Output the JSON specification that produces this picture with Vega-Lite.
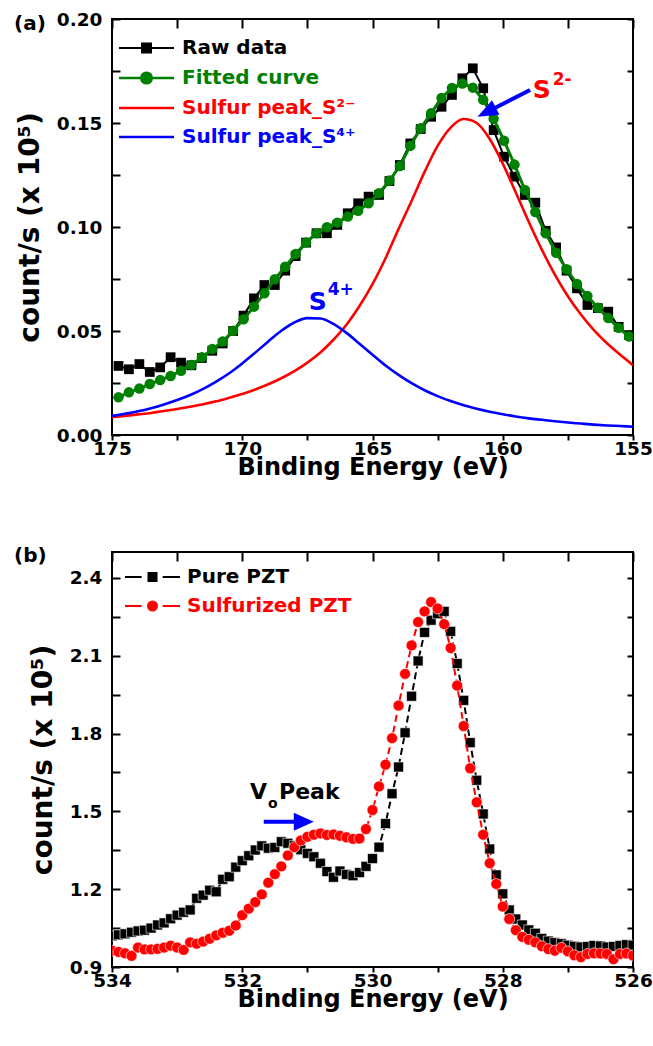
{
  "$schema": "https://vega.github.io/schema/vega-lite/v6.json",
  "background": "white",
  "padding": {"left": 13, "top": 9, "right": 3, "bottom": 3},
  "spacing": 64,
  "resolve": {"scale": {"color": "independent"}, "legend": {"color": "independent"}},
  "config": {
    "font": "DejaVu Sans",
    "view": {"stroke": "black", "strokeWidth": 2},
    "axis": {"grid": false, "domain": false, "tickColor": "black", "tickWidth": 2, "labelFont": "DejaVu Sans", "labelFontWeight": "bold", "labelColor": "black", "labelFontSize": 18.5, "titleFont": "DejaVu Sans", "titleFontWeight": "bold", "titleColor": "black", "titleFontSize": 24, "labelFlush": false, "labelOverlap": false},
    "legend": {"labelFont": "DejaVu Sans", "labelFontWeight": "bold", "labelFontSize": 20, "padding": 0, "rowPadding": 0, "labelLimit": 400},
    "title": {"font": "DejaVu Sans", "fontWeight": "bold", "fontSize": 20, "color": "black"}
  },
  "datasets": {
    "topMeas": [
      {"E":174.75,"raw":0.0332,"fit":0.0181},{"E":174.35,"raw":0.0316,"fit":0.0205},{"E":173.95,"raw":0.0341,"fit":0.0223},{"E":173.55,"raw":0.0303,"fit":0.0245},{"E":173.15,"raw":0.0325,"fit":0.0264},
      {"E":172.75,"raw":0.0374,"fit":0.0284},{"E":172.35,"raw":0.0348,"fit":0.0309},{"E":171.95,"raw":0.0335,"fit":0.0337},{"E":171.55,"raw":0.0370,"fit":0.0374},{"E":171.15,"raw":0.0405,"fit":0.0413},
      {"E":170.75,"raw":0.0440,"fit":0.0449},{"E":170.35,"raw":0.0500,"fit":0.0501},{"E":169.95,"raw":0.0574,"fit":0.0556},{"E":169.55,"raw":0.0657,"fit":0.0617},{"E":169.15,"raw":0.0721,"fit":0.0681},
      {"E":168.75,"raw":0.0721,"fit":0.0749},{"E":168.35,"raw":0.0790,"fit":0.0809},{"E":167.95,"raw":0.0860,"fit":0.0870},{"E":167.55,"raw":0.0925,"fit":0.0925},{"E":167.15,"raw":0.0970,"fit":0.0970},
      {"E":166.75,"raw":0.0970,"fit":0.0999},{"E":166.35,"raw":0.1010,"fit":0.1021},{"E":165.95,"raw":0.1066,"fit":0.1050},{"E":165.55,"raw":0.1114,"fit":0.1078},{"E":165.15,"raw":0.1146,"fit":0.1114},
      {"E":164.75,"raw":0.1154,"fit":0.1162},{"E":164.35,"raw":0.1221,"fit":0.1223},{"E":163.95,"raw":0.1298,"fit":0.1293},{"E":163.55,"raw":0.1402,"fit":0.1390},{"E":163.15,"raw":0.1471,"fit":0.1475},
      {"E":162.75,"raw":0.1530,"fit":0.1547},{"E":162.35,"raw":0.1578,"fit":0.1620},{"E":161.95,"raw":0.1635,"fit":0.1668},{"E":161.55,"raw":0.1715,"fit":0.1690},{"E":161.15,"raw":0.1763,"fit":0.1670},
      {"E":160.75,"raw":0.1667,"fit":0.1612},{"E":160.35,"raw":0.1466,"fit":0.1520},{"E":159.95,"raw":0.1338,"fit":0.1415},{"E":159.55,"raw":0.1242,"fit":0.1300},{"E":159.15,"raw":0.1154,"fit":0.1178},
      {"E":158.75,"raw":0.1117,"fit":0.1072},{"E":158.35,"raw":0.0982,"fit":0.0970},{"E":157.95,"raw":0.0902,"fit":0.0876},{"E":157.55,"raw":0.0790,"fit":0.0797},{"E":157.15,"raw":0.0705,"fit":0.0726},
      {"E":156.75,"raw":0.0625,"fit":0.0668},{"E":156.35,"raw":0.0610,"fit":0.0612},{"E":155.95,"raw":0.0593,"fit":0.0562},{"E":155.55,"raw":0.0520,"fit":0.0515},{"E":155.15,"raw":0.0480,"fit":0.0473}
    ],
    "topPeaks": [
      {"E":175,"s2":0.0086,"s4":0.0091},{"E":174.5,"s2":0.0092,"s4":0.0102},{"E":174,"s2":0.0099,"s4":0.0114},{"E":173.5,"s2":0.0106,"s4":0.0129},{"E":173,"s2":0.0115,"s4":0.0147},
      {"E":172.5,"s2":0.0125,"s4":0.0168},{"E":172,"s2":0.0136,"s4":0.0192},{"E":171.5,"s2":0.0148,"s4":0.0222},{"E":171,"s2":0.0162,"s4":0.0257},{"E":170.5,"s2":0.0179,"s4":0.0297},
      {"E":170,"s2":0.0197,"s4":0.0344},{"E":169.5,"s2":0.0219,"s4":0.0396},{"E":169,"s2":0.0244,"s4":0.0450},{"E":168.5,"s2":0.0273,"s4":0.0501},{"E":168,"s2":0.0307,"s4":0.0541},
      {"E":167.5,"s2":0.0348,"s4":0.0562},{"E":167,"s2":0.0397,"s4":0.0560},{"E":166.5,"s2":0.0458,"s4":0.0534},{"E":166,"s2":0.0530,"s4":0.0491},{"E":165.5,"s2":0.0620,"s4":0.0439},
      {"E":165,"s2":0.0725,"s4":0.0386},{"E":164.5,"s2":0.0850,"s4":0.0334},{"E":164,"s2":0.0990,"s4":0.0289},{"E":163.5,"s2":0.1125,"s4":0.0249},{"E":163,"s2":0.1265,"s4":0.0215},
      {"E":162.5,"s2":0.1390,"s4":0.0187},{"E":162,"s2":0.1478,"s4":0.0163},{"E":161.5,"s2":0.1519,"s4":0.0143},{"E":161,"s2":0.1500,"s4":0.0126},{"E":160.5,"s2":0.1423,"s4":0.0112},
      {"E":160,"s2":0.1305,"s4":0.0100},{"E":159.5,"s2":0.1166,"s4":0.0089},{"E":159,"s2":0.1024,"s4":0.0080},{"E":158.5,"s2":0.0891,"s4":0.0073},{"E":158,"s2":0.0771,"s4":0.0066},
      {"E":157.5,"s2":0.0667,"s4":0.0060},{"E":157,"s2":0.0579,"s4":0.0055},{"E":156.5,"s2":0.0504,"s4":0.0050},{"E":156,"s2":0.0441,"s4":0.0046},{"E":155.5,"s2":0.0387,"s4":0.0043},
      {"E":155,"s2":0.0336,"s4":0.0040}
    ],
    "bottom": [
      {"E":534.0,"pure":1.020,"sulf":0.963},{"E":533.9,"pure":1.024,"sulf":0.958},{"E":533.8,"pure":1.028,"sulf":0.953},{"E":533.7,"pure":1.034,"sulf":0.943},{"E":533.6,"pure":1.039,"sulf":0.975},
      {"E":533.5,"pure":1.042,"sulf":0.968},{"E":533.4,"pure":1.050,"sulf":0.968},{"E":533.3,"pure":1.062,"sulf":0.970},{"E":533.2,"pure":1.070,"sulf":0.975},{"E":533.1,"pure":1.086,"sulf":0.982},
      {"E":533.0,"pure":1.100,"sulf":0.975},{"E":532.9,"pure":1.111,"sulf":0.966},{"E":532.8,"pure":1.120,"sulf":0.995},{"E":532.7,"pure":1.165,"sulf":0.990},{"E":532.6,"pure":1.177,"sulf":0.998},
      {"E":532.5,"pure":1.196,"sulf":1.009},{"E":532.4,"pure":1.190,"sulf":1.022},{"E":532.3,"pure":1.238,"sulf":1.032},{"E":532.2,"pure":1.248,"sulf":1.040},{"E":532.1,"pure":1.285,"sulf":1.060},
      {"E":532.0,"pure":1.310,"sulf":1.100},{"E":531.9,"pure":1.329,"sulf":1.125},{"E":531.8,"pure":1.351,"sulf":1.150},{"E":531.7,"pure":1.367,"sulf":1.180},{"E":531.6,"pure":1.358,"sulf":1.225},
      {"E":531.5,"pure":1.361,"sulf":1.258},{"E":531.4,"pure":1.383,"sulf":1.288},{"E":531.3,"pure":1.377,"sulf":1.330},{"E":531.2,"pure":1.368,"sulf":1.362},{"E":531.1,"pure":1.352,"sulf":1.388},
      {"E":531.0,"pure":1.338,"sulf":1.402},{"E":530.9,"pure":1.325,"sulf":1.410},{"E":530.8,"pure":1.300,"sulf":1.415},{"E":530.7,"pure":1.268,"sulf":1.409},{"E":530.6,"pure":1.246,"sulf":1.411},
      {"E":530.5,"pure":1.270,"sulf":1.406},{"E":530.4,"pure":1.257,"sulf":1.400},{"E":530.3,"pure":1.252,"sulf":1.394},{"E":530.2,"pure":1.264,"sulf":1.395},{"E":530.1,"pure":1.288,"sulf":1.432},
      {"E":530.0,"pure":1.318,"sulf":1.505},{"E":529.9,"pure":1.362,"sulf":1.596},{"E":529.8,"pure":1.453,"sulf":1.680},{"E":529.7,"pure":1.568,"sulf":1.782},{"E":529.6,"pure":1.671,"sulf":1.908},
      {"E":529.5,"pure":1.803,"sulf":2.030},{"E":529.4,"pure":1.944,"sulf":2.140},{"E":529.3,"pure":2.080,"sulf":2.230},{"E":529.2,"pure":2.190,"sulf":2.271},{"E":529.1,"pure":2.237,"sulf":2.307},
      {"E":529.0,"pure":2.262,"sulf":2.282},{"E":528.9,"pure":2.271,"sulf":2.222},{"E":528.8,"pure":2.194,"sulf":2.130},{"E":528.7,"pure":2.070,"sulf":1.985},{"E":528.6,"pure":1.928,"sulf":1.829},
      {"E":528.5,"pure":1.765,"sulf":1.666},{"E":528.4,"pure":1.620,"sulf":1.535},{"E":528.3,"pure":1.490,"sulf":1.410},{"E":528.2,"pure":1.355,"sulf":1.300},{"E":528.1,"pure":1.255,"sulf":1.220},
      {"E":528.0,"pure":1.182,"sulf":1.133},{"E":527.9,"pure":1.120,"sulf":1.085},{"E":527.8,"pure":1.085,"sulf":1.042},{"E":527.7,"pure":1.062,"sulf":1.016},{"E":527.6,"pure":1.043,"sulf":1.005},
      {"E":527.5,"pure":1.030,"sulf":0.995},{"E":527.4,"pure":1.010,"sulf":0.980},{"E":527.3,"pure":1.000,"sulf":0.969},{"E":527.2,"pure":0.994,"sulf":0.963},{"E":527.1,"pure":0.990,"sulf":0.974},
      {"E":527.0,"pure":0.984,"sulf":0.960},{"E":526.9,"pure":0.980,"sulf":0.945},{"E":526.8,"pure":0.977,"sulf":0.938},{"E":526.7,"pure":0.979,"sulf":0.950},{"E":526.6,"pure":0.983,"sulf":0.953},
      {"E":526.5,"pure":0.981,"sulf":0.952},{"E":526.4,"pure":0.977,"sulf":0.950},{"E":526.3,"pure":0.979,"sulf":0.930},{"E":526.2,"pure":0.983,"sulf":0.950},{"E":526.1,"pure":0.986,"sulf":0.952},
      {"E":526.0,"pure":0.984,"sulf":0.944}
    ]
  },
  "vconcat": [
    {
      "width": 521,
      "height": 416,
      "title": {"text": "(a)", "anchor": "start", "frame": "group", "dx": -98, "offset": -24},
      "resolve": {"axis": {"x": "independent", "y": "independent"}},
      "encoding": {
        "x": {"field": "E", "type": "quantitative", "scale": {"domain": [155, 175], "reverse": true, "nice": false, "zero": false}, "axis": null},
        "y": {"field": "v", "type": "quantitative", "scale": {"domain": [0, 0.2], "nice": false}, "axis": null}
      },
      "layer": [
        {
          "data": {"name": "topMeas"},
          "transform": [{"fold": ["raw", "fit"], "as": ["series", "v"]}, {"filter": "datum.series == 'raw'"}],
          "mark": {"type": "line", "strokeWidth": 2, "clip": true},
          "encoding": {
            "x": {"field": "E", "type": "quantitative", "axis": {"orient": "bottom", "values": [175, 172.5, 170, 167.5, 165, 162.5, 160, 157.5, 155], "format": "d", "labelExpr": "datum.value % 5 == 0 ? datum.label : ''", "tickSize": 5, "labelPadding": -1, "title": "Binding Energy (eV)", "titlePadding": -2}},
            "y": {"field": "v", "type": "quantitative", "axis": {"orient": "left", "values": [0, 0.025, 0.05, 0.075, 0.1, 0.125, 0.15, 0.175, 0.2], "format": ".2f", "labelExpr": "round(datum.value * 1000) % 50 == 0 ? datum.label : ''", "tickSize": -8, "labelPadding": 18, "title": "count/s (x 10⁵)", "titleFontSize": 28, "titlePadding": 12}},
            "color": {
              "field": "series", "type": "nominal",
              "scale": {"domain": ["raw", "fit", "s2", "s4"], "range": ["black", "#008000", "red", "blue"]},
              "legend": {
                "orient": "none", "legendX": 12, "legendY": 19, "title": null, "symbolSize": 900, "rowPadding": 9, "labelOffset": 38, "labelFontSize": 20,
                "labelExpr": "datum.label == 'raw' ? 'Raw data' : datum.label == 'fit' ? 'Fitted curve' : datum.label == 's2' ? 'Sulfur peak_S²⁻' : 'Sulfur peak_S⁴⁺'",
                "encode": {
                  "symbols": {"update": {
                    "shape": {"signal": "datum.value == 'raw' ? 'M-1,0H2.667M0.533,-0.3H1.133V0.3H0.533Z' : datum.value == 'fit' ? 'M-1,0H2.667M1.183,0A0.35,0.35 0 1 1 0.483,0A0.35,0.35 0 1 1 1.183,0Z' : 'M-1,0H2.667'"},
                    "fill": {"signal": "datum.value == 'raw' ? 'black' : datum.value == 'fit' ? '#008000' : datum.value == 's2' ? 'red' : 'blue'"},
                    "stroke": {"signal": "datum.value == 'raw' ? 'black' : datum.value == 'fit' ? '#008000' : datum.value == 's2' ? 'red' : 'blue'"},
                    "strokeWidth": {"signal": "datum.value == 'raw' ? 2 : 2.6"},
                    "opacity": {"value": 1}, "fillOpacity": {"value": 1}, "strokeOpacity": {"value": 1}
                  }},
                  "labels": {"update": {"fill": {"signal": "datum.value == 'raw' ? 'black' : datum.value == 'fit' ? '#008000' : datum.value == 's2' ? 'red' : 'blue'"}}}
                }
              }
            }
          }
        },
        {
          "data": {"name": "topMeas"},
          "transform": [{"fold": ["raw", "fit"], "as": ["series", "v"]}, {"filter": "datum.series == 'raw'"}],
          "mark": {"type": "point", "shape": "square", "filled": true, "size": 95, "opacity": 1, "clip": true},
          "encoding": {"color": {"field": "series", "type": "nominal"}}
        },
        {
          "data": {"name": "topMeas"},
          "transform": [{"fold": ["raw", "fit"], "as": ["series", "v"]}, {"filter": "datum.series == 'fit'"}],
          "mark": {"type": "line", "strokeWidth": 3, "clip": true},
          "encoding": {"color": {"field": "series", "type": "nominal"}}
        },
        {
          "data": {"name": "topMeas"},
          "transform": [{"fold": ["raw", "fit"], "as": ["series", "v"]}, {"filter": "datum.series == 'fit'"}],
          "mark": {"type": "point", "shape": "circle", "filled": true, "size": 110, "opacity": 1, "clip": true},
          "encoding": {"color": {"field": "series", "type": "nominal"}}
        },
        {
          "data": {"name": "topPeaks"},
          "transform": [{"fold": ["s2", "s4"], "as": ["series", "v"]}],
          "mark": {"type": "line", "strokeWidth": 2.6, "interpolate": "monotone", "clip": true},
          "encoding": {
            "x": {"field": "E", "type": "quantitative", "axis": {"orient": "top", "values": [175, 172.5, 170, 167.5, 165, 162.5, 160, 157.5, 155], "labels": false, "tickSize": -9, "title": null}},
            "y": {"field": "v", "type": "quantitative", "axis": {"orient": "right", "values": [0, 0.025, 0.05, 0.075, 0.1, 0.125, 0.15, 0.175, 0.2], "labels": false, "tickSize": -6, "title": null}},
            "color": {"field": "series", "type": "nominal"}
          }
        },
        {
          "data": {"values": [{"E": 158.95, "v": 0.1659, "E2": 160.62, "v2": 0.1552}]},
          "mark": {"type": "rule", "color": "blue", "strokeWidth": 4},
          "encoding": {"x2": {"field": "E2"}, "y2": {"field": "v2"}}
        },
        {
          "data": {"values": [{"E": 160.62, "v": 0.1552}]},
          "mark": {"type": "point", "shape": "M0,-1L0.8,1L-0.8,1Z", "angle": 243, "size": 420, "filled": true, "color": "blue", "opacity": 1}
        },
        {
          "data": {"values": [{"E": 158.85, "v": 0.162, "t": "S"}]},
          "mark": {"type": "text", "align": "left", "baseline": "alphabetic", "fontSize": 25, "fontWeight": "bold", "color": "red"},
          "encoding": {"text": {"field": "t"}}
        },
        {
          "data": {"values": [{"E": 158.85, "v": 0.162, "t": "2-"}]},
          "mark": {"type": "text", "align": "left", "baseline": "alphabetic", "fontSize": 17, "fontWeight": "bold", "color": "red", "dx": 20, "dy": -13},
          "encoding": {"text": {"field": "t"}}
        },
        {
          "data": {"values": [{"E": 167.45, "v": 0.0601, "t": "S"}]},
          "mark": {"type": "text", "align": "left", "baseline": "alphabetic", "fontSize": 25, "fontWeight": "bold", "color": "blue"},
          "encoding": {"text": {"field": "t"}}
        },
        {
          "data": {"values": [{"E": 167.45, "v": 0.0601, "t": "4+"}]},
          "mark": {"type": "text", "align": "left", "baseline": "alphabetic", "fontSize": 17, "fontWeight": "bold", "color": "blue", "dx": 19, "dy": -15},
          "encoding": {"text": {"field": "t"}}
        }
      ]
    },
    {
      "width": 521,
      "height": 415,
      "title": {"text": "(b)", "anchor": "start", "frame": "group", "dx": -98, "offset": -15},
      "data": {"name": "bottom"},
      "resolve": {"axis": {"x": "independent", "y": "independent"}},
      "encoding": {
        "x": {"field": "E", "type": "quantitative", "scale": {"domain": [526, 534], "reverse": true, "nice": false, "zero": false}, "axis": null},
        "y": {"field": "v", "type": "quantitative", "scale": {"domain": [0.9, 2.5], "nice": false, "zero": false}, "axis": null}
      },
      "layer": [
        {
          "transform": [{"fold": ["pure", "sulf"], "as": ["series", "v"]}, {"filter": "datum.series == 'pure'"}],
          "mark": {"type": "line", "strokeWidth": 2, "strokeDash": [7, 4], "clip": true},
          "encoding": {
            "x": {"field": "E", "type": "quantitative", "axis": {"orient": "bottom", "values": [534, 533, 532, 531, 530, 529, 528, 527, 526], "format": "d", "labelExpr": "datum.value % 2 == 0 ? datum.label : ''", "tickSize": 5, "labelPadding": -1, "title": "Binding Energy (eV)", "titlePadding": -2}},
            "y": {"field": "v", "type": "quantitative", "axis": {"orient": "left", "values": [0.9, 1.05, 1.2, 1.35, 1.5, 1.65, 1.8, 1.95, 2.1, 2.25, 2.4], "format": ".1f", "labelExpr": "round(datum.value * 100) % 30 == 0 ? datum.label : ''", "tickSize": -8, "labelPadding": 18, "title": "count/s (x 10⁵)", "titleFontSize": 28, "titlePadding": 12}},
            "color": {
              "field": "series", "type": "nominal",
              "scale": {"domain": ["pure", "sulf"], "range": ["black", "red"]},
              "legend": {
                "orient": "none", "legendX": 12, "legendY": 9.5, "title": null, "symbolSize": 841, "rowPadding": 3, "labelOffset": 32, "labelFontSize": 20,
                "labelExpr": "datum.label == 'pure' ? 'Pure PZT' : 'Sulfurized PZT'",
                "encode": {
                  "symbols": {"update": {
                    "shape": {"signal": "datum.value == 'pure' ? 'M-1,0H0.15M1.6,0H2.793M0.621,-0.276H1.173V0.276H0.621Z' : 'M-1,0H0.15M1.6,0H2.793M1.207,0A0.31,0.31 0 1 1 0.587,0A0.31,0.31 0 1 1 1.207,0Z'"},
                    "fill": {"signal": "datum.value == 'pure' ? 'black' : 'red'"},
                    "stroke": {"signal": "datum.value == 'pure' ? 'black' : 'red'"},
                    "strokeWidth": {"value": 2},
                    "strokeDash": {"value": []},
                    "opacity": {"value": 1}, "fillOpacity": {"value": 1}, "strokeOpacity": {"value": 1}
                  }},
                  "labels": {"update": {"fill": {"signal": "datum.value == 'pure' ? 'black' : 'red'"}}}
                }
              }
            }
          }
        },
        {
          "transform": [{"fold": ["pure", "sulf"], "as": ["series", "v"]}, {"filter": "datum.series == 'pure'"}],
          "mark": {"type": "point", "shape": "square", "filled": true, "size": 100, "opacity": 1, "stroke": "white", "strokeWidth": 0.6, "clip": true},
          "encoding": {"color": {"field": "series", "type": "nominal"}}
        },
        {
          "transform": [{"fold": ["pure", "sulf"], "as": ["series", "v"]}, {"filter": "datum.series == 'sulf'"}],
          "mark": {"type": "line", "strokeWidth": 2, "strokeDash": [7, 4], "clip": true},
          "encoding": {
            "x": {"field": "E", "type": "quantitative", "axis": {"orient": "top", "values": [534, 533, 532, 531, 530, 529, 528, 527, 526], "labels": false, "tickSize": -9, "title": null}},
            "y": {"field": "v", "type": "quantitative", "axis": {"orient": "right", "values": [0.9, 1.05, 1.2, 1.35, 1.5, 1.65, 1.8, 1.95, 2.1, 2.25, 2.4], "labels": false, "tickSize": -6, "title": null}},
            "color": {"field": "series", "type": "nominal"}
          }
        },
        {
          "transform": [{"fold": ["pure", "sulf"], "as": ["series", "v"]}, {"filter": "datum.series == 'sulf'"}],
          "mark": {"type": "point", "shape": "circle", "filled": true, "size": 120, "opacity": 1, "stroke": "white", "strokeWidth": 0.6, "clip": true},
          "encoding": {"color": {"field": "series", "type": "nominal"}}
        },
        {
          "data": {"values": [{"E": 531.67, "v": 1.46, "E2": 531.055, "v2": 1.46}]},
          "mark": {"type": "rule", "color": "blue", "strokeWidth": 4},
          "encoding": {"x2": {"field": "E2"}, "y2": {"field": "v2"}}
        },
        {
          "data": {"values": [{"E": 531.055, "v": 1.46}]},
          "mark": {"type": "point", "shape": "M0,-1L0.9,1L-0.9,1Z", "angle": 90, "size": 400, "filled": true, "color": "blue", "opacity": 1}
        },
        {
          "data": {"values": [{"E": 531.88, "v": 1.548, "t": "V"}]},
          "mark": {"type": "text", "align": "left", "baseline": "alphabetic", "fontSize": 22, "fontWeight": "bold", "color": "black"},
          "encoding": {"text": {"field": "t"}}
        },
        {
          "data": {"values": [{"E": 531.88, "v": 1.548, "t": "o"}]},
          "mark": {"type": "text", "align": "left", "baseline": "alphabetic", "fontSize": 14, "fontWeight": "bold", "color": "black", "dx": 18, "dy": 9},
          "encoding": {"text": {"field": "t"}}
        },
        {
          "data": {"values": [{"E": 531.88, "v": 1.548, "t": "Peak"}]},
          "mark": {"type": "text", "align": "left", "baseline": "alphabetic", "fontSize": 22, "fontWeight": "bold", "color": "black", "dx": 29},
          "encoding": {"text": {"field": "t"}}
        }
      ]
    }
  ]
}
